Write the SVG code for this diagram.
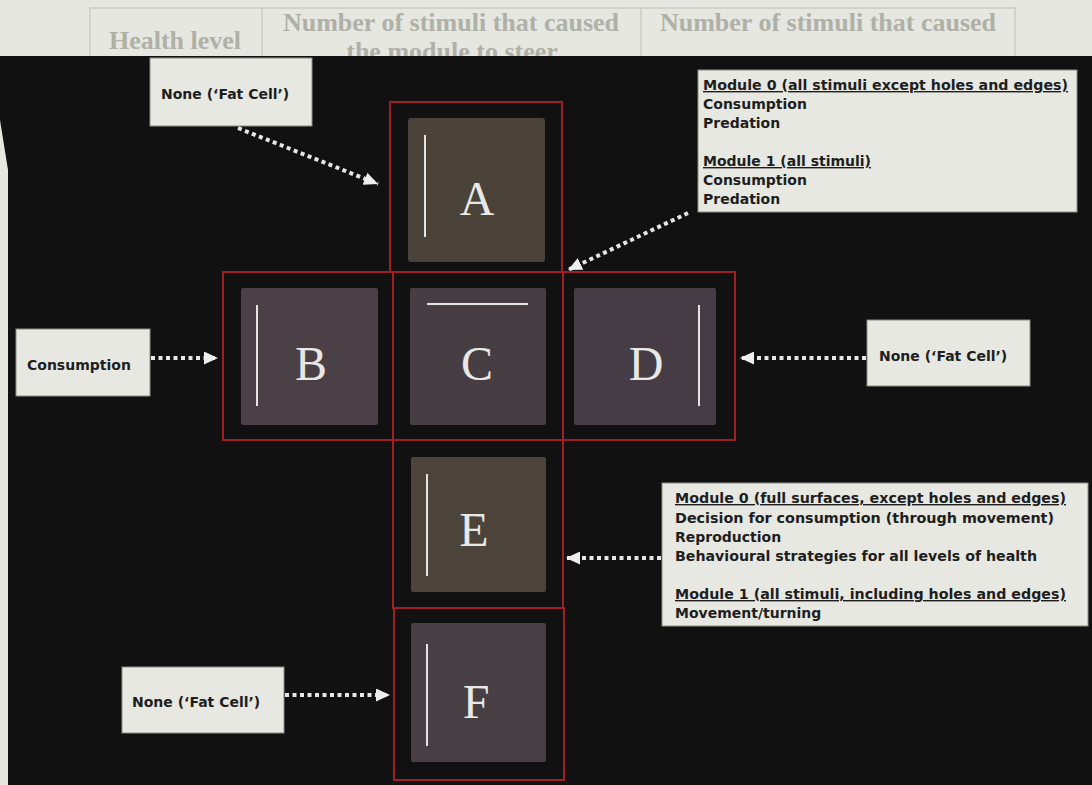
<svg xmlns="http://www.w3.org/2000/svg" width="1092" height="785" viewBox="0 0 1092 785">
<defs>
<style>
.page{fill:#e6e7e0}
.ghost{font-family:"Liberation Serif",serif;font-weight:bold;font-size:26px;fill:#afb0a8}
.tline{stroke:#cbccc4;stroke-width:1.5;fill:none}
.bg{fill:#111111}
.red{fill:none;stroke:#9e1f26;stroke-width:2}
.lbl{fill:#e7e8e1;stroke:#8e8f88;stroke-width:1}
.t{font-family:"DejaVu Sans",Verdana,sans-serif;font-weight:bold;font-size:14px;fill:#1e1e1e}
.u{text-decoration:underline}
.let{font-family:"Liberation Serif",serif;font-size:48px;fill:#e8e8e6;text-anchor:middle}
.bar{stroke:#e4e4e0;stroke-width:2}
.dot{stroke:#e6e6e6;stroke-width:4;stroke-dasharray:4 3.5;fill:none}
</style>
<marker id="ah" markerUnits="userSpaceOnUse" markerWidth="14" markerHeight="13" refX="14" refY="6.5" orient="auto">
<path d="M0,0 L14,6.5 L0,13 z" fill="#eeeeee"/>
</marker>
</defs>

<rect class="page" x="0" y="0" width="1092" height="785"/>
<g id="page-table">
<rect class="tline" x="90" y="8" width="925" height="60"/>
<line class="tline" x1="262" y1="8" x2="262" y2="68"/>
<line class="tline" x1="641" y1="8" x2="641" y2="68"/>
<text class="ghost" x="175" y="49" text-anchor="middle">Health level</text>
<text class="ghost" x="451" y="31" text-anchor="middle">Number of stimuli that caused</text>
<text class="ghost" x="828" y="31" text-anchor="middle">Number of stimuli that caused</text>
<text class="ghost" x="452" y="60" text-anchor="middle">the module to steer</text>
</g>
<polygon class="bg" points="0,56 1092,56 1092,785 8,785 8,170 0,120"/>

<g id="grid">
<rect class="red" x="390" y="102" width="172" height="170"/>
<rect class="red" x="223" y="272" width="512" height="168"/>
<line class="red" x1="393" y1="272" x2="393" y2="440"/>
<line class="red" x1="563" y1="272" x2="563" y2="440"/>
<rect class="red" x="393" y="440" width="170" height="168"/>
<rect class="red" x="394" y="608" width="170" height="172"/>
</g>

<g id="cell-A">
<rect x="408" y="118" width="137" height="144" rx="3" fill="#4b4239"/>
<line class="bar" x1="425" y1="135" x2="425" y2="237"/>
<text class="let" x="477" y="215">A</text>
</g>
<g id="cell-B">
<rect x="241" y="288" width="137" height="137" rx="2" fill="#4a4045"/>
<line class="bar" x1="257" y1="305" x2="257" y2="406"/>
<text class="let" x="311" y="380">B</text>
</g>
<g id="cell-C">
<rect x="410" y="288" width="136" height="137" rx="2" fill="#473e43"/>
<line class="bar" x1="427" y1="304" x2="528" y2="304"/>
<text class="let" x="477" y="380">C</text>
</g>
<g id="cell-D">
<rect x="574" y="288" width="142" height="137" rx="2" fill="#463c45"/>
<line class="bar" x1="699" y1="305" x2="699" y2="406"/>
<text class="let" x="646" y="380">D</text>
</g>
<g id="cell-E">
<rect x="411" y="457" width="135" height="135" rx="2" fill="#4c443b"/>
<line class="bar" x1="427" y1="474" x2="427" y2="576"/>
<text class="let" x="474" y="546">E</text>
</g>
<g id="cell-F">
<rect x="411" y="623" width="135" height="139" rx="2" fill="#483f44"/>
<line class="bar" x1="427" y1="644" x2="427" y2="746"/>
<text class="let" x="476" y="718">F</text>
</g>

<g id="label-A">
<rect class="lbl" x="150" y="58" width="162" height="68"/>
<text class="t" x="161" y="99">None (‘Fat Cell’)</text>
</g>
<g id="label-C">
<rect class="lbl" x="698" y="70" width="379" height="142"/>
<text class="t u" x="703" y="90" textLength="365" lengthAdjust="spacingAndGlyphs">Module 0 (all stimuli except holes and edges)</text>
<text class="t" x="703" y="109">Consumption</text>
<text class="t" x="703" y="128">Predation</text>
<text class="t u" x="703" y="166">Module 1 (all stimuli)</text>
<text class="t" x="703" y="185">Consumption</text>
<text class="t" x="703" y="204">Predation</text>
</g>
<g id="label-B">
<rect class="lbl" x="16" y="329" width="134" height="67"/>
<text class="t" x="27" y="370">Consumption</text>
</g>
<g id="label-D">
<rect class="lbl" x="867" y="320" width="163" height="66"/>
<text class="t" x="879" y="361">None (‘Fat Cell’)</text>
</g>
<g id="label-E">
<rect class="lbl" x="662" y="483" width="426" height="143"/>
<text class="t u" x="675" y="503" textLength="391" lengthAdjust="spacingAndGlyphs">Module 0 (full surfaces, except holes and edges)</text>
<text class="t" x="675" y="523" textLength="379" lengthAdjust="spacingAndGlyphs">Decision for consumption (through movement)</text>
<text class="t" x="675" y="542">Reproduction</text>
<text class="t" x="675" y="561" textLength="362" lengthAdjust="spacingAndGlyphs">Behavioural strategies for all levels of health</text>
<text class="t u" x="675" y="599" textLength="391" lengthAdjust="spacingAndGlyphs">Module 1 (all stimuli, including holes and edges)</text>
<text class="t" x="675" y="618">Movement/turning</text>
</g>
<g id="label-F">
<rect class="lbl" x="122" y="667" width="162" height="66"/>
<text class="t" x="132" y="707">None (‘Fat Cell’)</text>
</g>

<g id="connectors">
<line class="dot" x1="238" y1="128" x2="378" y2="184" marker-end="url(#ah)"/>
<line class="dot" x1="688" y1="213" x2="568" y2="270" marker-end="url(#ah)"/>
<line class="dot" x1="151" y1="358" x2="218" y2="358" marker-end="url(#ah)"/>
<line class="dot" x1="866" y1="358" x2="740" y2="358" marker-end="url(#ah)"/>
<line class="dot" x1="661" y1="558" x2="566" y2="558" marker-end="url(#ah)"/>
<line class="dot" x1="285" y1="695" x2="390" y2="695" marker-end="url(#ah)"/>
</g>
</svg>
